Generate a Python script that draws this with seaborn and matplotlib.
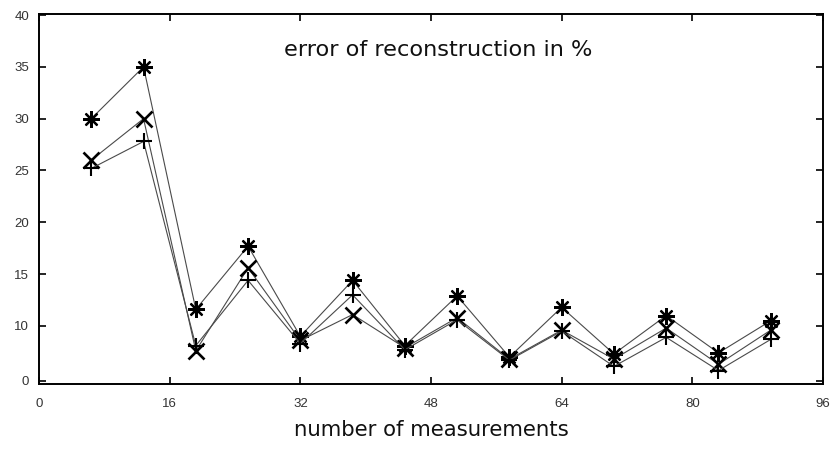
import numpy as np
import pandas as pd
import matplotlib
matplotlib.use("Agg")
import matplotlib.pyplot as plt
import seaborn as sns

# number of measurements (x positions of the points)
measurements = [6.4, 12.8, 19.2, 25.6, 32.0, 38.4, 44.8, 51.2, 57.6, 64.0, 70.4, 76.8, 83.2, 89.6]

# error of reconstruction in %, one list per series
err_star = [30.0, 35.0, 11.6, 17.7, 9.0, 14.4, 8.1, 12.9, 7.0, 11.8, 7.3, 11.0, 7.4, 10.5]
err_cross = [26.0, 30.0, 7.6, 15.6, 8.6, 11.1, 7.9, 10.8, 6.8, 9.6, 6.8, 9.8, 6.3, 9.6]
err_plus = [25.2, 27.8, 8.1, 14.4, 8.3, 13.0, 7.7, 10.6, 6.7, 9.5, 6.1, 8.9, 5.7, 8.7]

ytick_vals = [4.7, 10, 15, 20, 25, 30, 35, 40]
ytick_labels = ["0", "10", "15", "20", "25", "30", "35", "40"]
xtick_vals = [0, 16, 32, 48, 64, 80, 96]

sns.set_style("ticks")
plt.rcParams['font.family'] = ['DejaVu Sans']

fig = plt.figure(figsize=(8.35, 4.49), dpi=100)
ax = fig.add_axes([39 / 835, 1 - 384 / 449, 784 / 835, 370 / 449])

series = [(err_star, (8, 2, 0), 12, 1.6), (err_cross, "x", 12, 1.9), (err_plus, "+", 12, 1.5)]
for vals, mk, ms, mw in series:
    df = pd.DataFrame({"n": measurements, "err": vals})
    sns.lineplot(data=df, x="n", y="err", ax=ax, color="#4a4a4a", linewidth=0.8,
                 marker=mk, markersize=ms, markeredgecolor="black",
                 markerfacecolor="black", markeredgewidth=mw)

ax.set_xlim(0, 96)
ax.set_ylim(4.4, 40.1)
ax.set_xticks(xtick_vals)
ax.set_yticks(ytick_vals)
ax.set_yticklabels(ytick_labels)

for side in ["top", "right", "bottom", "left"]:
    ax.spines[side].set_visible(True)
    ax.spines[side].set_linewidth(1.4)
    ax.spines[side].set_color("black")

ax.tick_params(direction="in", length=5, width=1.2, top=True, right=True, colors="black")
ax.tick_params(axis="x", pad=10, labelsize=9.5, labelcolor="#333333")
ax.tick_params(axis="y", pad=7, labelsize=9.5, labelcolor="#333333")
for lab in ax.get_xticklabels() + ax.get_yticklabels():
    lab.set_family(["Liberation Sans", "DejaVu Sans"])

ax.set_ylabel("")
ax.set_xlabel("number of measurements", fontsize=15.3, labelpad=7, color="#111111")
ax.text(0.509, 0.903, "error of reconstruction in %", transform=ax.transAxes,
        ha="center", va="center", fontsize=16.2, color="#111111")

fig.savefig("out.png", dpi=100)
